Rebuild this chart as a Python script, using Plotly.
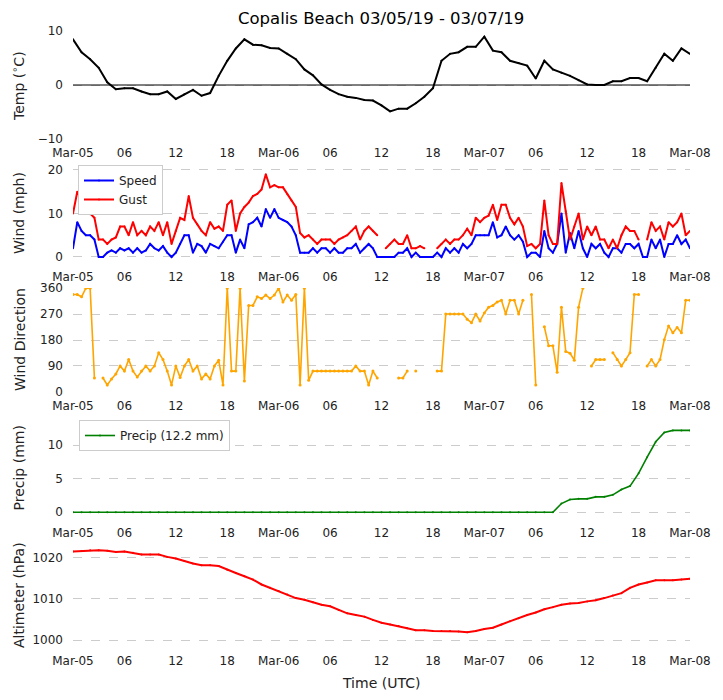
import pandas as pd
import plotly.graph_objects as go
from plotly.subplots import make_subplots

# the page puts the figure 8px in from the top-left corner
OFF = 8
W, H = 723 - OFF, 700 - OFF

# hourly series, Mar-05 00Z .. Mar-08 00Z
temp = [8.5, 6.1, 4.8, 3.2, 0.5, -0.8, -0.6, -0.6, -1.2, -1.7, -1.7, -1.2,
        -2.6, -1.7, -0.9, -2.0, -1.5, 1.7, 4.5, 6.8, 8.5, 7.5, 7.4, 6.9,
        6.8, 5.8, 4.8, 2.9, 1.8, 0.1, -0.9, -1.7, -2.2, -2.4, -2.8, -2.9,
        -3.8, -4.9, -4.4, -4.4, -3.4, -2.2, -0.6, 4.5, 5.8, 6.1, 7.1, 7.1,
        9.0, 6.4, 6.1, 4.5, 4.1, 3.6, 1.2, 4.5, 2.9, 2.3, 1.7, 0.9,
        0.1, 0.0, 0.0, 0.7, 0.7, 1.3, 1.3, 0.7, 3.2, 5.8, 4.5, 6.8, 5.8]

precip = [0, 0, 0, 0, 0, 0, 0, 0, 0, 0, 0, 0,
          0, 0, 0, 0, 0, 0, 0, 0, 0, 0, 0, 0,
          0, 0, 0, 0, 0, 0, 0, 0, 0, 0, 0, 0,
          0, 0, 0, 0, 0, 0, 0, 0, 0, 0, 0, 0,
          0, 0, 0, 0, 0, 0, 0, 0, 0, 1.3, 1.9, 2.0,
          2.0, 2.3, 2.3, 2.6, 3.4, 3.9, 5.8, 8.2, 10.5, 11.9, 12.2, 12.2, 12.2]

altim = [1021.5, 1021.6, 1021.8, 1021.8, 1021.7, 1021.4, 1021.5, 1021.2, 1020.8, 1020.8, 1020.8, 1020.2,
         1019.8, 1019.2, 1018.6, 1018.2, 1018.2, 1018.0, 1017.1, 1016.3, 1015.5, 1014.7, 1013.5, 1012.7,
         1011.9, 1011.1, 1010.2, 1009.8, 1009.2, 1008.6, 1008.2, 1007.3, 1006.5, 1006.1, 1005.7, 1004.9,
         1004.2, 1003.8, 1003.4, 1002.9, 1002.4, 1002.4, 1002.2, 1002.2, 1002.2, 1002.1, 1001.9, 1002.2,
         1002.7, 1003.0, 1003.8, 1004.6, 1005.3, 1006.1, 1006.7, 1007.5, 1008.0, 1008.6, 1008.9, 1009.0,
         1009.4, 1009.7, 1010.2, 1010.8, 1011.4, 1012.7, 1013.5, 1014.0, 1014.5, 1014.5, 1014.5, 1014.7, 1014.9]

# half-hourly wind series
speed = [2, 8, 6, 5, 5, 4, 0, 0, 1, 1.5, 1, 2, 1.5, 2, 1, 2, 1, 1.5, 3, 2, 1.5, 2.5, 1, 0,
         1, 3, 5, 5, 1, 3, 2.5, 1, 3, 2.5, 2, 3.5, 5, 5, 1, 4, 2, 7.5, 8, 9, 7, 11, 9, 11,
         9, 8.5, 8, 7, 5, 1, 1, 1, 2, 1, 2, 2, 1, 2, 1, 1, 2, 2, 3, 1, 2, 3, 2, 0,
         0, 0, 0, 0, 1, 1, 2, 0, 1, 0, 0, 0, 0, 1, 0, 2, 1, 2, 1, 3, 2, 3, 5, 5,
         5, 5, 8, 4.5, 5, 7, 5, 4, 5, 3.5, 0, 1, 1, 0, 6, 2, 1, 3, 10, 1, 5.5, 2, 6, 2,
         0, 3, 2, 3, 1, 0, 2, 2, 1, 3, 3, 2, 3, 0, 0, 4, 2, 4, 0, 3, 3, 5, 3, 4, 2]

gust = [10, 15, 13, 10.5, 10, 9, 4, 4, 3, 4, 4.5, 7, 7, 5, 8, 5, 6, 5, 7, 6, 8, 5, 8, 3,
        6, 9, 8.5, 14, 9, 7.5, 6, 5, 8, 6.5, 7, 6, 12, 13, 6, 10, 11.5, 12.5, 14, 14.5, 15.5, 19, 16, 16.5,
        16, 16, 14.5, 13, 11.5, 5.5, 4.5, 5, 4, 3, 4, 4, 4, 3, 4, 4.5, 5, 6, 7, 4, 6, 7, 6, 5,
        None, 2, 3, 4, 3, 3, 5, 2, 2, 2.5, 2, None, None, 2, 3, 4, 3, 4, 4, 5, 6.5, 5, 9, 8,
        9, 9.5, 12, 8.5, 12, 12, 9, 7.5, 9, 7, 2.5, 3, 2, 3, 13, 5, 3, 3, 17, 10.5, 4, 7, 10, 4,
        7, 5, 7, 4, 4, 2, 4, 2, 5, 7, 6, 6, 4, None, 4, 8, 6, 7, 4, 8, 7, 8, 10, 5, 6]

wdir = [338, 338, 330, 360, 360, 48, None, 48, 24, 45, 62, 90, 72, 112, 72, 52, 72, 90, 72, 90, 136, 112, 72, 24,
        90, 50, 90, 112, 72, 90, 45, 62, 45, 90, 110, 24, 360, 72, 72, 360, 38, 300, 300, 330, 324, 336, 324, 336,
        360, 312, 336, 318, 338, 24, 360, 40, 72, 72, 72, 72, 72, 72, 72, 72, 72, 72, 90, 72, 72, 24, 72, 48,
        None, None, None, None, 48, 48, 72, None, 72, None, None, None, None, 72, 72, 270, 270, 270, 270, 270, 252, 240, 270, 246,
        274, 294, 300, 312, 318, 270, 318, 318, 270, 318, None, 338, 24, None, 226, 160, 160, 68, 294, 140, 134, 110, 294, 360,
        None, 90, 112, 112, 112, None, 136, 112, 90, 112, 136, 338, 338, None, 90, 112, 90, 112, 181, 229, 205, 223, 205, 318, 318]

hours = pd.date_range("2019-03-05", periods=len(temp), freq="h")
halfh = pd.date_range("2019-03-05", periods=len(speed), freq="30min")

tickvals = pd.date_range("2019-03-05", "2019-03-08", freq="6h")
ticktext = [t.strftime("%b-%d") if t.hour == 0 else t.strftime("%H") for t in tickvals]


# page pixels -> paper coords
def px(x):
    return (x - OFF) / W


def py(y):
    return 1 - (y - OFF) / H


# panel pixel boxes (top, bottom) and y ranges
panels = [
    (31.0, 139.0, [-10.05, 10.05], [-10, 0, 10]),
    (165.6, 263.3, [-1.45, 21.0], [0, 10, 20]),
    (288.0, 392.0, [-0.5, 360.5], [0, 90, 180, 270, 360]),
    (423.0, 519.0, [-1.0, 13.3], [0, 5, 10]),
    (547.0, 646.7, [998.4, 1022.6], [1000, 1010, 1020]),
]

fig = make_subplots(rows=5, cols=1)

fig.add_trace(go.Scatter(x=hours, y=temp, mode="lines+markers", line=dict(color="black", width=2),
                         marker=dict(size=2), showlegend=False), row=1, col=1)
fig.add_trace(go.Scatter(x=halfh, y=speed, mode="lines+markers", name="Speed",
                         line=dict(color="blue", width=2), marker=dict(size=2)), row=2, col=1)
fig.add_trace(go.Scatter(x=halfh, y=gust, mode="lines+markers", name="Gust",
                         line=dict(color="red", width=2), marker=dict(size=2)), row=2, col=1)
fig.add_trace(go.Scatter(x=halfh, y=wdir, mode="lines+markers", line=dict(color="orange", width=1.6),
                         marker=dict(size=3), showlegend=False), row=3, col=1)
fig.add_trace(go.Scatter(x=hours, y=precip, mode="lines+markers", name="Precip (12.2 mm)",
                         line=dict(color="green", width=1.6), marker=dict(size=2), legend="legend2"),
              row=4, col=1)
fig.add_trace(go.Scatter(x=hours, y=altim, mode="lines+markers", line=dict(color="red", width=2),
                         marker=dict(size=2), showlegend=False), row=5, col=1)

fig.add_hline(y=0, line=dict(color="black", width=1), row=1, col=1)

for i, (top, bot, yr, yt) in enumerate(panels, start=1):
    fig.update_xaxes(domain=[px(73), px(690)], range=["2019-03-05", "2019-03-08"],
                     tickvals=tickvals, ticktext=ticktext, showgrid=False, zeroline=False,
                     showline=False, ticks="", ticklabelstandoff=5, automargin=False,
                     tickfont=dict(size=12, color="#222"), row=i, col=1)
    fig.update_yaxes(domain=[py(bot), py(top)], range=yr, tickvals=yt, showgrid=True,
                     gridcolor="#cccccc", griddash="dash", gridwidth=1, zeroline=False,
                     showline=False, ticks="", ticklabelstandoff=9, automargin=False,
                     tickfont=dict(size=12, color="#222"), row=i, col=1)

ylabels = [("Temp (<sup>∘</sup>C)", 18, 86), ("Wind (mph)", 19, 213), ("Wind Direction", 20, 340),
           ("Precip (mm)", 18.5, 468), ("Altimeter (hPa)", 19, 595)]
for txt, xp, yp in ylabels:
    fig.add_annotation(text=txt, x=px(xp), y=py(yp), xref="paper", yref="paper", textangle=-90,
                       showarrow=False, xanchor="center", yanchor="middle", font=dict(size=14, color="#222"))

fig.add_annotation(text="Time (UTC)", x=px(381), y=py(683), xref="paper", yref="paper",
                   showarrow=False, xanchor="center", yanchor="middle", font=dict(size=14, color="#222"))
fig.add_annotation(text="Copalis Beach 03/05/19 - 03/07/19", x=px(381), y=py(18), xref="paper", yref="paper",
                   showarrow=False, xanchor="center", yanchor="middle", font=dict(size=16.5, color="black"))

fig.update_layout(
    width=W, height=H, template="none", paper_bgcolor="white", plot_bgcolor="white",
    margin=dict(l=0, r=0, t=0, b=0),
    font=dict(family="DejaVu Sans", color="#222"),
    legend=dict(x=px(78), y=py(165), xanchor="left", yanchor="top", bgcolor="white",
                bordercolor="#cccccc", borderwidth=1, font=dict(size=12), itemwidth=30,
                tracegroupgap=0),
    legend2=dict(x=px(79), y=py(420), xanchor="left", yanchor="top", bgcolor="white",
                 bordercolor="#cccccc", borderwidth=1, font=dict(size=12), itemwidth=30),
)

fig.write_html("out.html")
